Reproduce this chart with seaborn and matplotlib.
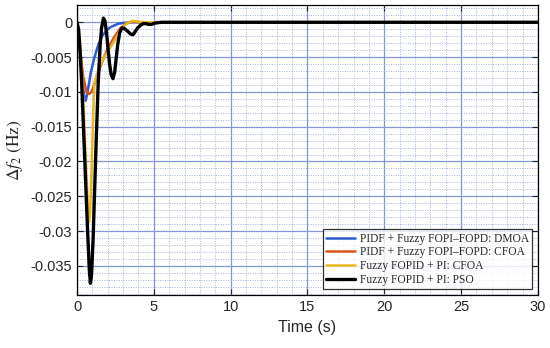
import numpy as np
import pandas as pd
import matplotlib
matplotlib.use("Agg")
import matplotlib.pyplot as plt
import seaborn as sns
from matplotlib.ticker import MultipleLocator

sns.set_style("ticks")
plt.rcParams['font.family'] = ['Liberation Sans', 'DejaVu Sans']
plt.rcParams['mathtext.fontset'] = 'stix'

# ------------------------------
# data (time in s, delta f2 in Hz)
# ------------------------------
t_dmoa = [0, 0.1, 0.2, 0.3, 0.4, 0.5, 0.55, 0.65, 0.76, 0.9, 1.08, 1.25, 1.41,
          1.6, 1.84, 2.1, 2.38, 2.7, 3.0, 3.5, 5, 30]
f_dmoa = [0, -0.002, -0.0045, -0.0072, -0.0095, -0.011, -0.0113, -0.0105, -0.0091,
          -0.0072, -0.0055, -0.0042, -0.0031, -0.0021, -0.0014, -0.0008, -0.0005,
          -0.0002, -0.0001, 0, 0, 0]

t_cfoa = [0, 0.1, 0.2, 0.4, 0.6, 0.7, 0.8, 0.9, 1.0, 1.2, 1.5, 1.8, 2.0, 2.4, 2.8,
          3.2, 3.6, 4.0, 5, 30]
f_cfoa = [0, -0.0018, -0.004, -0.0078, -0.0098, -0.0102, -0.0103, -0.0101, -0.0097,
          -0.0085, -0.0065, -0.0048, -0.0038, -0.0022, -0.0009, -0.0002, 0.0001, 0,
          0, 0]

t_fopid = [0, 0.1, 0.2, 0.3, 0.4, 0.5, 0.6, 0.7, 0.78, 0.85, 0.95, 1.05, 1.13, 1.3,
           1.5, 1.75, 2.0, 2.4, 2.8, 3.2, 3.6, 4.0, 4.5, 5, 30]
f_fopid = [0, -0.0008, -0.003, -0.007, -0.011, -0.016, -0.021, -0.026, -0.0287,
           -0.0275, -0.021, -0.0135, -0.0088, -0.0074, -0.0062, -0.0051, -0.0042,
           -0.0028, -0.0012, -0.0002, 0.0002, 0.0001, 0, 0, 0]

t_pso = [0, 0.1, 0.2, 0.3, 0.4, 0.5, 0.6, 0.7, 0.8, 0.87, 0.95, 1.05, 1.15, 1.25,
         1.38, 1.5, 1.6, 1.72, 1.82, 1.92, 2.02, 2.12, 2.22, 2.34, 2.45, 2.55, 2.65,
         2.78, 2.92, 3.1, 3.3, 3.5, 3.64, 3.8, 3.95, 4.1, 4.3, 4.5, 4.65, 4.85,
         5.1, 5.5, 6, 30]
f_pso = [0, -0.001, -0.004, -0.0085, -0.014, -0.0195, -0.025, -0.0305, -0.0355,
         -0.0375, -0.0362, -0.031, -0.024, -0.017, -0.0088, -0.0035, -0.0008,
         0.0006, 0.0002, -0.0015, -0.0038, -0.006, -0.0075, -0.0081, -0.0072,
         -0.0052, -0.0032, -0.0015, -0.0008, -0.0009, -0.0013, -0.0017, -0.0018,
         -0.0013, -0.0008, -0.0005, -0.0002, -0.0002, -0.0003, -0.0003, -0.0001,
         0, 0, 0]

labels = ['PIDF + Fuzzy FOPI\u2013FOPD: DMOA', 'PIDF + Fuzzy FOPI\u2013FOPD: CFOA',
          'Fuzzy FOPID + PI: CFOA', 'Fuzzy FOPID + PI: PSO']
colors = ['#2f5bd0', '#d95319', '#e8b820', '#000000']
widths = [1.8, 1.8, 1.8, 2.4]

# ------------------------------
# plot
# ------------------------------
fig = plt.figure(figsize=(5.5, 3.48), dpi=100)
ax = fig.add_axes([0.14, 0.152, 0.838, 0.834])

series = [(t_dmoa, f_dmoa), (t_cfoa, f_cfoa), (t_fopid, f_fopid), (t_pso, f_pso)]
for (t, f), lab, c, w in zip(series, labels, colors, widths):
    sns.lineplot(x=t, y=f, ax=ax, color=c, lw=w, label=lab, sort=False)

ax.set_xlim(0, 30)
ax.set_ylim(-0.0392, 0.0025)
ax.xaxis.set_major_locator(MultipleLocator(5))
ax.xaxis.set_minor_locator(MultipleLocator(1))
ax.yaxis.set_major_locator(MultipleLocator(0.005))
ax.yaxis.set_minor_locator(MultipleLocator(0.001))
ax.set_yticks([0, -0.005, -0.01, -0.015, -0.02, -0.025, -0.03, -0.035])
ax.set_yticklabels(['0', '-0.005', '-0.01', '-0.015', '-0.02', '-0.025', '-0.03', '-0.035'])

ax.grid(which='major', color='#8197d6', lw=0.9, ls='-')
ax.grid(which='minor', color='#a6b1e3', lw=0.7, ls=(0, (1, 1.5)))
ax.set_axisbelow(True)
ax.tick_params(which='both', direction='in', top=True, right=True, labelsize=10.5)
ax.tick_params(which='major', length=4)
ax.tick_params(which='minor', length=0)
for s in ax.spines.values():
    s.set_color('black')
    s.set_linewidth(0.9)

ax.set_xlabel('Time (s)', fontsize=11.5)
ax.set_ylabel(r'$\Delta f_2\ \mathrm{(Hz)}$', fontsize=12.5)

leg = ax.legend(loc='lower right', prop={'family': 'Liberation Serif', 'size': 8.3},
                frameon=True, fancybox=False, edgecolor='black', handlelength=2.5,
                borderpad=0.3, labelspacing=0.15, handletextpad=0.4,
                borderaxespad=0.5)
leg.get_frame().set_linewidth(0.9)

fig.savefig('out.png', dpi=100)
